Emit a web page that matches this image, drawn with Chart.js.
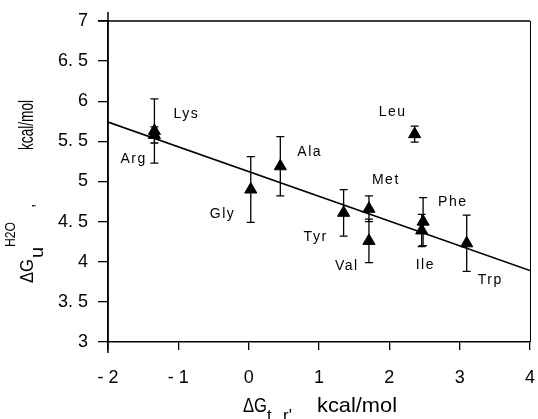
<!DOCTYPE html>
<html><head><meta charset="utf-8">
<script src="https://cdn.jsdelivr.net/npm/chart.js@4"></script>
<style>html,body{margin:0;padding:0;background:#fff;overflow:hidden}canvas{display:block}</style>
</head><body>
<canvas id="c" width="538" height="419"></canvas>
<script>
const aminoAcids = ['Arg','Lys','Gly','Ala','Tyr','Met','Val','Leu','Ile','Phe','Trp'];
const dGtr   = [-1.34, -1.34, 0.03, 0.45, 1.35, 1.71, 1.71, 2.36, 2.46, 2.48, 3.10];
const dGu    = [ 5.58,  5.63, 4.90, 5.19, 4.61, 4.66, 4.26, 5.59, 4.39, 4.50, 4.23];
const dGuErr = [ 0.10,  0.40, 0.41, 0.37, 0.29, 0.16, 0.27, 0.10, 0.20, 0.30, 0.35];
const fitX = [-2, 4];
const fitY = [5.74, 3.89];
const xTicks = [-2, -1, 0, 1, 2, 3, 4];
const yTicks = [3, 3.5, 4, 4.5, 5, 5.5, 6, 6.5, 7];
const labelOffsets = [[-34,24],[19,-17],[-41,25],[17,-14],[-40,24],[3,-29],[-34,25],[-36,-22],[-6,35],[15,-19],[11,37]];

const FONT = "'Liberation Sans', Arial, Helvetica, sans-serif";
function fmtTick(v){
  let s = String(v);
  if (s.startsWith('-')) s = '- ' + s.slice(1);
  return s.replace('.', '. ');
}

const errorBars = {
  id: 'errorBars',
  afterDatasetsDraw(chart){
    const {ctx, scales:{x, y}} = chart;
    ctx.save();
    ctx.strokeStyle = '#000'; ctx.lineWidth = 1.3;
    dGtr.forEach((xv, i) => {
      const px = x.getPixelForValue(xv);
      const top = y.getPixelForValue(dGu[i] + dGuErr[i]);
      const bot = y.getPixelForValue(dGu[i] - dGuErr[i]);
      ctx.beginPath();
      ctx.moveTo(px, top); ctx.lineTo(px, bot);
      ctx.moveTo(px - 4, top); ctx.lineTo(px + 4, top);
      ctx.moveTo(px - 4, bot); ctx.lineTo(px + 4, bot);
      ctx.stroke();
    });
    ctx.restore();
  }
};

const frame = {
  id: 'frame',
  afterDraw(chart){
    const {ctx, chartArea:a} = chart;
    ctx.save();
    ctx.strokeStyle = '#000'; ctx.lineWidth = 1.5;
    ctx.beginPath();
    ctx.moveTo(a.left - 10, a.top); ctx.lineTo(a.right, a.top);
    ctx.moveTo(a.left, a.top - 9); ctx.lineTo(a.left, a.bottom + 11);
    ctx.stroke();
    ctx.lineWidth = 1;
    ctx.beginPath();
    ctx.moveTo(a.right + 0.5, a.top); ctx.lineTo(a.right + 0.5, a.bottom);
    ctx.stroke();
    ctx.restore();
  }
};

const pointLabels = {
  id: 'pointLabels',
  afterDraw(chart){
    const {ctx, scales:{x, y}} = chart;
    ctx.save();
    ctx.fillStyle = '#000';
    ctx.font = '14px ' + FONT;
    ctx.letterSpacing = '1.5px';
    ctx.textAlign = 'left'; ctx.textBaseline = 'middle';
    aminoAcids.forEach((name, i) => {
      const px = x.getPixelForValue(dGtr[i]);
      const py = y.getPixelForValue(dGu[i]);
      ctx.fillText(name, px + labelOffsets[i][0], py + labelOffsets[i][1]);
    });
    ctx.restore();
  }
};

function piece(ctx, text, u, v, size, len){
  ctx.font = size + 'px ' + FONT;
  const w = ctx.measureText(text).width;
  const s = len ? len / w : 1;
  ctx.save();
  ctx.translate(u, v);
  ctx.scale(s, 1);
  ctx.fillText(text, 0, 0);
  ctx.restore();
}

const titles = {
  id: 'titles',
  afterDraw(chart){
    const {ctx} = chart;
    ctx.save();
    ctx.fillStyle = '#000';
    ctx.textAlign = 'left'; ctx.textBaseline = 'alphabetic';
    // x-axis title
    piece(ctx, '\u0394G', 243, 412, 20, 24);
    piece(ctx, 't', 267, 421, 17, 0);
    piece(ctx, "r'", 283, 421, 17, 0);
    piece(ctx, 'kcal/mol', 317, 412, 21, 80);
    // y-axis title (rotated)
    ctx.save();
    ctx.translate(33, 283);
    ctx.rotate(-Math.PI / 2);
    piece(ctx, '\u0394G', 0, 0, 19, 24);
    piece(ctx, 'u', 25, 10, 19, 11);
    piece(ctx, 'H2O', 36, -18, 14, 25);
    piece(ctx, ',', 75, 1, 16, 0);
    piece(ctx, 'kcal/mol', 133, 0, 20, 50);
    ctx.restore();
    ctx.restore();
  }
};

new Chart(document.getElementById('c'), {
  type: 'scatter',
  data: {
    datasets: [
      {
        label: 'data',
        data: dGtr.map((xv, i) => ({x: xv, y: dGu[i]})),
        pointStyle: 'triangle',
        pointRadius: 7,
        backgroundColor: '#000',
        borderColor: '#000',
        borderWidth: 1,
        order: 1
      },
      {
        type: 'line',
        label: 'fit',
        data: fitX.map((xv, i) => ({x: xv, y: fitY[i]})),
        borderColor: '#000',
        borderWidth: 1.6,
        pointRadius: 0,
        fill: false,
        order: 2
      }
    ]
  },
  options: {
    responsive: false,
    animation: false,
    layout: {padding: {top: 21, right: 2, left: 0, bottom: 0}},
    plugins: {legend: {display: false}, tooltip: {enabled: false}},
    scales: {
      x: {
        type: 'linear', min: -2, max: 4,
        afterBuildTicks: s => { s.ticks = xTicks.map(v => ({value: v})); },
        afterFit: s => { s.height = 77; s.paddingLeft = 0; s.paddingRight = 0; },
        grid: {drawOnChartArea: false, drawTicks: true, tickLength: 8, color: '#000', lineWidth: 1.3},
        border: {display: true, color: '#000', width: 1.5},
        ticks: {font: {size: 18, family: FONT}, color: '#000', padding: 17, maxRotation: 0, callback: v => fmtTick(v)}
      },
      y: {
        type: 'linear', min: 3, max: 7,
        afterBuildTicks: s => { s.ticks = yTicks.map(v => ({value: v})); },
        afterFit: s => { s.width = 108; s.paddingTop = 0; s.paddingBottom = 0; },
        grid: {drawOnChartArea: false, drawTicks: true, tickLength: 10, color: '#000', lineWidth: 1.3},
        border: {display: true, color: '#000', width: 1.5},
        ticks: {font: {size: 18, family: FONT}, color: '#000', padding: 10, callback: v => fmtTick(v)}
      }
    }
  },
  plugins: [errorBars, frame, pointLabels, titles]
});
</script>
</body></html>
